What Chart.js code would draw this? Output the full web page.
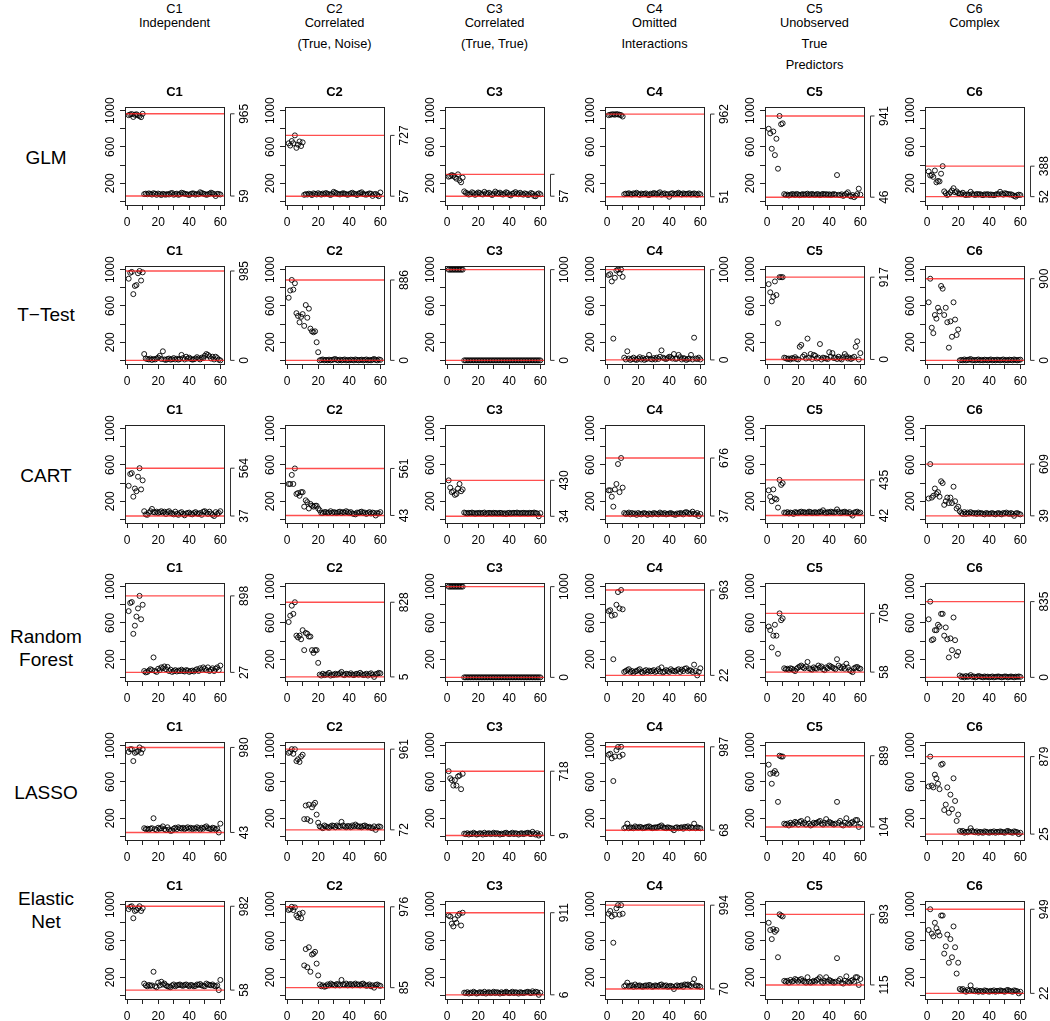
<!DOCTYPE html>
<html>
<head>
<meta charset="utf-8">
<script src="https://cdn.jsdelivr.net/npm/chart.js@4.4.1/dist/chart.umd.min.js"></script>
<style>
  body { margin: 0; background: #fff; }
  #page { position: relative; width: 1050px; height: 1021px; overflow: hidden;
          font-family: "Liberation Sans", Arial, sans-serif; color: #000; }
  .colHead { position: absolute; width: 160px; text-align: center; font-size: 12.8px; line-height: 14px; white-space: nowrap; }
  .rowHead { position: absolute; left: 0; width: 92px; text-align: center; font-size: 19px; line-height: 23px; }
  canvas { position: absolute; }
</style>
</head>
<body>
<div id="page"></div>
<script>
/* ======================================================
   Labels
=========================================================*/
const methods = [["GLM"], ["T\u2212Test"], ["CART"], ["Random", "Forest"], ["LASSO"], ["Elastic", "Net"]];
const methodLabelY = [157, 314, 475, 648, 792, 910];
const conditions = ["C1", "C2", "C3", "C4", "C5", "C6"];
const conditionNotes = [
  ["Independent"],
  ["Correlated", "(True, Noise)"],
  ["Correlated", "(True, True)"],
  ["Omitted", "Interactions"],
  ["Unobserved", "True", "Predictors"],
  ["Complex"]
];
const xTicks = [0, 10, 20, 30, 40, 50, 60];
const xTickLabels = [0, 20, 40, 60];
const yTicks = [0, 200, 400, 600, 800, 1000];
const yTickLabels = [200, 600, 1000];

/* right-hand bracket labels (max / min) per method */
const maxLabels = [
  ["965", "727", "", "962", "941", "388"],
  ["985", "886", "1000", "1000", "917", "900"],
  ["564", "561", "430", "676", "435", "609"],
  ["898", "828", "1000", "963", "705", "835"],
  ["980", "961", "718", "987", "889", "879"],
  ["982", "976", "911", "994", "893", "949"]
];
const minLabels = [
  ["59", "57", "57", "51", "46", "52"],
  ["0", "0", "0", "0", "0", "0"],
  ["37", "43", "34", "37", "42", "39"],
  ["27", "5", "0", "22", "58", "0"],
  ["43", "72", "9", "68", "104", "25"],
  ["58", "85", "6", "70", "115", "22"]
];

/* ======================================================
   Data (predictor 1..60)
=========================================================*/
// GLM
const glmC1 = [950,958,962,930,955,960,948,940,928,965,
  80,85,78,88,82,75,90,84,72,86, 79,70,83,77,74,81,76,88,92,73,
  80,85,72,78,95,90,84,79,76,70, 82,88,86,74,80,78,100,92,85,80,
  72,77,84,96,88,79,59,83,81,76];
const glmC2 = [640,615,665,640,727,590,625,660,610,650,
  72,80,75,85,78,70,88,82,76,90, 80,74,86,79,92,84,77,70,83,105,
  95,88,80,76,82,90,85,78,72,80, 88,95,84,79,70,86,92,100,82,76,
  74,80,88,84,60,78,82,70,57,98];
const glmC3 = [272,278,290,282,268,250,298,232,210,262,
  110,95,88,75,80,100,90,72,85,98, 92,80,76,105,88,82,95,78,70,86,
  108,90,84,96,80,75,88,100,92,72, 65,84,90,102,86,78,95,80,74,88,
  82,70,76,92,84,60,57,80,88,78];
const glmC4 = [950,955,958,960,955,962,958,955,950,935,
  78,85,82,90,80,76,88,84,95,80, 72,86,79,82,88,75,70,84,80,92,
  86,78,90,100,74,82,88,76,80,51, 84,90,78,82,86,95,80,76,88,82,
  79,84,90,76,82,88,80,72,86,78];
const glmC5 = [800,750,580,770,510,690,360,941,850,860,
  80,70,75,65,72,80,78,70,82,76, 68,74,80,72,78,85,70,76,82,74,
  72,80,78,68,76,82,74,80,72,78, 70,76,80,74,290,72,68,78,60,70,
  85,100,65,55,70,46,62,80,140,75];
const glmC6 = [330,285,290,270,340,210,225,220,305,388,
  110,90,70,80,100,120,145,100,110,90, 85,80,95,75,70,78,72,105,80,76,
  70,82,75,80,72,68,78,74,80,70, 76,72,68,74,80,78,105,82,74,90,
  85,80,76,78,70,60,52,68,74,70];

// T-Test
const ttC1 = [900,965,975,730,820,830,960,985,880,970,
  70,20,15,10,20,5,15,10,20,30, 50,15,100,10,5,15,20,8,12,25,
  10,18,8,15,60,25,10,40,20,30, 15,8,12,20,35,20,10,30,25,50,
  70,60,45,20,40,10,40,25,8,0];
const ttC2 = [690,770,886,780,850,520,490,420,480,510,
  380,610,470,570,350,320,310,320,200,90, 0,5,10,0,5,0,8,0,5,10,
  15,5,0,8,0,5,10,0,5,0, 8,5,0,10,5,0,5,8,0,5,
  10,0,5,0,8,15,5,0,10,5];
const ttC3 = [1000,1000,1000,1000,1000,1000,1000,1000,1000,1000,
  0,0,0,0,0,0,0,0,0,0, 0,0,0,0,0,0,0,0,0,0,
  0,0,0,0,0,0,0,0,0,0, 0,0,0,0,0,0,0,0,0,0,
  0,0,0,0,0,0,0,0,0,0];
const ttC4 = [940,950,870,240,910,990,1000,960,1000,920,
  30,10,100,20,5,15,30,10,5,20, 35,10,25,5,15,20,60,15,10,25,
  10,30,15,40,110,30,20,15,25,40, 35,20,70,15,20,60,35,10,25,20,
  5,15,20,60,10,250,20,15,30,10];
const ttC5 = [840,750,650,700,870,720,410,917,917,917,
  30,25,15,20,10,25,20,35,15,10, 150,170,40,60,20,240,30,70,15,60,
  50,20,30,180,10,30,25,20,15,90, 40,80,25,30,15,40,20,10,35,70,
  45,20,30,15,25,40,150,210,10,80];
const ttC6 = [640,900,360,300,500,460,580,540,820,790,
  500,580,420,140,430,260,640,450,280,340, 0,5,0,10,0,5,8,15,0,5,
  0,5,10,0,5,0,8,5,0,5, 10,0,5,0,8,5,0,5,10,0,
  5,0,8,5,0,10,5,0,5,8];

// CART
const cartC1 = [370,500,510,250,340,310,470,564,330,430,
  90,55,50,70,90,115,80,75,85,70, 80,90,75,85,60,80,90,70,65,55,
  85,60,50,70,80,60,45,65,70,75, 60,55,70,80,65,60,70,50,85,90,
  75,60,85,65,50,37,80,60,70,90];
const cartC2 = [390,390,490,390,561,280,290,260,300,300,
  140,210,190,120,170,150,140,150,150,120, 100,70,70,80,80,70,75,90,70,80,
  75,70,80,85,70,80,75,90,80,70, 80,65,60,55,75,70,80,85,70,75,
  60,70,80,65,75,70,43,70,65,80];
const cartC3 = [430,350,300,310,270,280,340,390,310,330,
  75,70,65,72,68,75,70,62,70,68, 72,65,70,75,60,68,72,70,65,72,
  70,68,65,72,70,62,68,58,70,72, 65,70,72,68,75,70,65,70,72,68,
  70,65,72,70,68,75,70,65,34,68];
const cartC4 = [320,320,250,140,330,390,610,300,676,350,
  70,60,65,75,55,70,60,65,50,70, 60,55,65,70,60,50,65,60,55,70,
  65,60,55,75,65,60,70,55,60,65, 70,60,55,50,65,60,70,65,55,75,
  80,70,60,65,85,60,55,70,37,60];
const cartC5 = [320,250,200,330,230,220,130,435,380,400,
  75,70,80,65,75,70,60,80,75,70, 80,85,75,80,70,75,85,80,70,75,
  80,70,75,85,80,100,75,70,80,75, 85,80,75,80,110,85,70,75,80,85,
  75,70,80,60,42,75,80,85,70,75];
const cartC6 = [230,609,240,260,340,280,300,250,420,400,
  160,200,240,180,240,180,360,200,120,140, 90,70,60,80,60,75,65,80,70,65,
  70,60,75,65,70,60,55,70,65,60, 65,70,60,55,65,70,60,55,70,65,
  75,65,60,70,60,39,65,70,60,55];

// Random Forest
const rfC1 = [730,820,830,480,570,670,760,898,640,800,
  70,55,60,75,90,80,220,70,60,95, 80,110,100,120,90,115,70,85,60,70,
  80,65,75,70,85,70,65,80,75,60, 70,75,65,80,90,70,100,85,110,95,
  80,110,70,85,100,70,95,110,80,130];
const rfC2 = [610,680,790,700,828,460,440,460,420,520,
  300,490,480,450,450,300,270,300,300,160, 30,20,40,25,30,35,50,20,30,25,
  40,30,35,45,60,30,25,40,35,30, 45,30,25,35,40,30,50,35,25,30,
  40,20,35,45,30,5,35,40,50,45];
const rfC3 = [1000,1000,1000,1000,1000,1000,1000,1000,1000,1000,
  0,0,0,0,0,0,0,0,0,0, 0,0,0,0,0,0,0,0,0,0,
  0,0,0,0,0,0,0,0,0,0, 0,0,0,0,0,0,0,0,0,0,
  0,0,0,0,0,0,0,0,0,0];
const rfC4 = [730,740,680,200,690,800,940,760,963,750,
  60,70,80,90,60,70,50,65,70,80, 90,60,50,70,80,60,75,65,70,80,
  60,70,90,65,110,55,65,80,70,60, 90,75,70,65,80,90,60,85,70,95,
  100,70,80,75,60,140,70,22,60,100];
const rfC5 = [560,520,330,460,580,460,260,705,630,650,
  100,90,95,85,100,95,80,70,95,110, 120,130,110,100,120,170,100,90,85,110,
  100,95,130,110,120,90,80,110,100,130, 120,110,100,90,200,130,110,100,120,95,
  150,110,80,70,58,100,110,115,100,95];
const rfC6 = [640,835,410,420,520,520,580,560,700,700,
  460,550,420,220,430,300,660,410,240,280, 20,5,10,0,15,5,10,25,5,10,
  0,5,15,10,5,0,10,5,8,0, 5,10,0,5,8,10,5,0,5,10,
  8,0,5,10,5,0,8,5,10,5];

// LASSO
const lassoC1 = [930,960,960,830,920,930,940,980,920,960,
  90,80,85,75,85,90,200,80,70,95, 85,90,110,80,70,100,75,60,65,85,
  95,80,100,90,85,95,80,90,100,85, 95,80,90,85,100,90,75,95,85,100,
  110,90,85,80,95,90,75,85,43,140];
const lassoC2 = [920,930,961,910,960,830,850,820,880,900,
  190,340,190,350,170,320,350,370,240,150, 110,100,90,120,110,100,95,110,120,115,
  100,120,110,105,160,120,110,100,115,110, 100,120,110,130,115,105,110,100,115,120,
  110,100,105,95,90,110,72,100,110,105];
const lassoC3 = [718,640,620,560,620,560,660,670,520,690,
  30,25,35,20,30,25,40,30,20,25, 35,30,20,40,25,30,35,25,30,40,
  25,35,30,20,30,25,35,40,30,25, 30,40,25,35,30,20,30,35,25,30,
  35,40,30,25,50,30,20,35,9,25];
const lassoC4 = [900,910,860,610,880,950,985,880,987,900,
  90,100,140,90,100,95,90,110,100,95, 105,100,90,95,100,105,110,100,90,95,
  100,95,105,110,120,100,95,90,100,95, 90,85,68,95,100,90,95,100,85,105,
  100,110,90,100,95,140,90,100,95,90];
const lassoC5 = [790,690,580,700,720,690,380,889,880,880,
  140,130,140,120,150,130,140,160,150,130, 160,170,140,150,130,190,140,120,130,150,
  140,150,160,170,140,130,150,190,140,160, 150,140,130,140,380,150,170,130,120,150,
  200,140,130,150,160,140,180,180,104,140];
const lassoC6 = [550,879,560,540,680,640,580,520,790,800,
  290,350,540,260,460,300,640,390,170,240, 60,50,60,40,50,45,55,90,60,50,
  45,55,40,50,45,40,55,50,45,40, 50,45,55,40,50,45,55,50,45,40,
  55,60,50,45,40,55,50,45,25,40];

// Elastic Net
const enetC1 = [950,975,982,850,930,940,960,982,930,960,
  130,110,100,115,105,110,260,100,90,140, 110,150,120,130,110,100,95,90,110,120,
  100,110,115,120,110,105,115,120,110,100, 115,110,100,105,120,115,125,110,105,100,
  130,120,115,110,120,105,100,110,58,170];
const enetC2 = [940,950,976,940,970,880,860,900,850,910,
  330,510,310,530,260,450,460,480,350,220, 120,100,110,95,100,120,110,130,120,115,
  110,125,120,110,170,120,115,130,110,120, 125,110,120,130,115,120,110,125,130,115,
  105,110,120,100,110,85,115,120,110,105];
const enetC3 = [880,870,790,760,840,800,880,900,770,911,
  30,25,35,20,30,25,40,30,20,25, 35,30,25,40,20,30,35,25,30,40,
  25,35,30,20,35,25,30,40,30,25, 30,40,25,35,30,20,35,30,25,30,
  35,40,30,25,45,30,40,35,6,30];
const enetC4 = [900,930,870,580,890,960,994,890,994,900,
  100,110,140,100,105,110,95,120,100,105, 110,100,95,105,110,100,115,110,95,100,
  110,105,100,115,120,100,105,110,95,100, 105,95,70,100,110,100,105,110,95,120,
  115,120,110,100,130,180,110,100,105,95];
const enetC5 = [800,720,620,730,700,720,420,893,880,870,
  160,150,160,140,170,150,160,180,170,150, 170,180,160,150,140,200,150,140,150,160,
  150,170,180,200,150,140,160,200,150,170, 160,150,140,150,410,160,180,140,130,160,
  210,150,140,160,170,150,200,200,115,180];
const enetC6 = [720,949,680,650,800,740,700,660,880,880,
  460,540,670,360,620,420,760,530,240,360, 70,60,70,50,40,60,50,110,60,50,
  45,55,40,50,45,40,55,50,45,40, 50,45,55,40,50,45,55,50,45,40,
  55,60,50,45,40,55,50,45,22,40];

const panels = [
  [glmC1, glmC2, glmC3, glmC4, glmC5, glmC6],
  [ttC1, ttC2, ttC3, ttC4, ttC5, ttC6],
  [cartC1, cartC2, cartC3, cartC4, cartC5, cartC6],
  [rfC1, rfC2, rfC3, rfC4, rfC5, rfC6],
  [lassoC1, lassoC2, lassoC3, lassoC4, lassoC5, lassoC6],
  [enetC1, enetC2, enetC3, enetC4, enetC5, enetC6]
];

/* ======================================================
   Layout
=========================================================*/
const FONT = '"Liberation Sans", Arial, sans-serif';
const page = document.getElementById("page");
const BOX_W = 99, BOX_H = 98;
const PAD_L = 40, PAD_T = 25, PAD_R = 34, PAD_B = 30;
const colLeft = (c) => Math.round(125 + 160 * c);
const rowTop = (r) => Math.round(107 + 158.8 * r);
const headLineY = [9, 23, 44, 65];

// column headers
conditions.forEach((name, c) => {
  [name].concat(conditionNotes[c]).forEach((txt, i) => {
    const d = document.createElement("div");
    d.className = "colHead";
    d.textContent = txt;
    d.style.left = (colLeft(c) + BOX_W / 2 - 80) + "px";
    d.style.top = (headLineY[i] - 7) + "px";
    page.appendChild(d);
  });
});

// row headers
methods.forEach((lines, r) => {
  const d = document.createElement("div");
  d.className = "rowHead";
  d.innerHTML = lines.join("<br>");
  d.style.top = (methodLabelY[r] - lines.length * 23 / 2) + "px";
  page.appendChild(d);
});

/* ======================================================
   Panel decoration: box, title, axis labels, range lines
=========================================================*/
const panelDeco = {
  id: "panelDeco",
  afterDatasetsDraw(chart, args, opts) {
    const { ctx, chartArea: a, scales: { y } } = chart;
    const lo = Math.min(...opts.values), hi = Math.max(...opts.values);
    ctx.save();
    ctx.beginPath();
    ctx.rect(a.left, a.top, a.right - a.left, a.bottom - a.top);
    ctx.clip();
    ctx.strokeStyle = "rgba(255,20,20,0.75)";
    ctx.lineWidth = 1.4;
    [lo, hi].forEach((v) => {
      const py = y.getPixelForValue(v);
      ctx.beginPath();
      ctx.moveTo(a.left, py);
      ctx.lineTo(a.right, py);
      ctx.stroke();
    });
    ctx.restore();
  },
  afterDraw(chart, args, opts) {
    const { ctx, chartArea: a, scales: { y } } = chart;
    const lo = Math.min(...opts.values), hi = Math.max(...opts.values);
    ctx.save();
    // box
    ctx.strokeStyle = "#222";
    ctx.lineWidth = 1;
    ctx.strokeRect(Math.round(a.left) + 0.5, Math.round(a.top) + 0.5,
      Math.round(a.right - a.left), Math.round(a.bottom - a.top));
    // title
    ctx.fillStyle = "#000";
    ctx.font = "bold 13px " + FONT;
    ctx.textAlign = "center";
    ctx.textBaseline = "middle";
    ctx.fillText(opts.title, (a.left + a.right) / 2, a.top - 15);
    // rotated left labels
    ctx.font = "12px " + FONT;
    yTickLabels.forEach((v) => {
      ctx.save();
      ctx.translate(a.left - 14, y.getPixelForValue(v));
      ctx.rotate(-Math.PI / 2);
      ctx.fillText(String(v), 0, 0);
      ctx.restore();
    });
    // right bracket
    const bx = Math.round(a.right) + 6.5;
    const yLo = y.getPixelForValue(lo), yHi = y.getPixelForValue(hi);
    ctx.strokeStyle = "#333";
    ctx.beginPath();
    ctx.moveTo(bx + 4, yHi); ctx.lineTo(bx, yHi);
    ctx.lineTo(bx, yLo); ctx.lineTo(bx + 4, yLo);
    ctx.stroke();
    [[opts.maxLabel, yHi], [opts.minLabel, yLo]].forEach(([txt, py]) => {
      if (!txt) return;
      ctx.save();
      ctx.translate(a.right + 21, py);
      ctx.rotate(-Math.PI / 2);
      ctx.fillText(txt, 0, 0);
      ctx.restore();
    });
    ctx.restore();
  }
};

/* ======================================================
   Build one chart per panel
=========================================================*/
function tickGrid() {
  return { display: true, drawOnChartArea: false, drawTicks: true, tickLength: 5, color: "#222", lineWidth: 1 };
}

function makePanel(r, c) {
  const values = panels[r][c];
  const canvas = document.createElement("canvas");
  canvas.width = PAD_L + BOX_W + PAD_R;
  canvas.height = PAD_T + BOX_H + PAD_B;
  canvas.style.left = (colLeft(c) - PAD_L) + "px";
  canvas.style.top = (rowTop(r) - PAD_T) + "px";
  page.appendChild(canvas);

  new Chart(canvas, {
    type: "scatter",
    data: {
      datasets: [{
        data: values.map((v, i) => ({ x: i + 1, y: v })),
        pointStyle: "circle",
        pointRadius: 2.5,
        pointHoverRadius: 2.5,
        pointBorderWidth: 0.9,
        pointBackgroundColor: "rgba(0,0,0,0)",
        pointBorderColor: "#000"
      }]
    },
    options: {
      responsive: false,
      animation: false,
      devicePixelRatio: 1,
      events: [],
      layout: { padding: { left: 0, top: PAD_T, right: PAD_R, bottom: 0 } },
      plugins: {
        legend: { display: false },
        tooltip: { enabled: false },
        panelDeco: {
          values: values,
          title: conditions[c],
          maxLabel: maxLabels[r][c],
          minLabel: minLabels[r][c]
        }
      },
      scales: {
        x: {
          type: "linear",
          min: -1.36,
          max: 62.36,
          afterBuildTicks: (s) => { s.ticks = xTicks.map((v) => ({ value: v })); },
          afterFit: (s) => { s.height = PAD_B; },
          grid: tickGrid(),
          border: { display: false },
          ticks: {
            autoSkip: false,
            maxRotation: 0,
            minRotation: 0,
            padding: 5,
            color: "#000",
            font: { family: FONT, size: 12 },
            callback: (v) => (xTickLabels.includes(v) ? String(v) : "")
          }
        },
        y: {
          type: "linear",
          min: -40,
          max: 1040,
          afterBuildTicks: (s) => { s.ticks = yTicks.map((v) => ({ value: v })); },
          afterFit: (s) => { s.width = PAD_L; },
          grid: tickGrid(),
          border: { display: false },
          ticks: { display: false }
        }
      }
    },
    plugins: [panelDeco]
  });
}

for (let r = 0; r < 6; r++) {
  for (let c = 0; c < 6; c++) makePanel(r, c);
}
</script>
</body>
</html>
